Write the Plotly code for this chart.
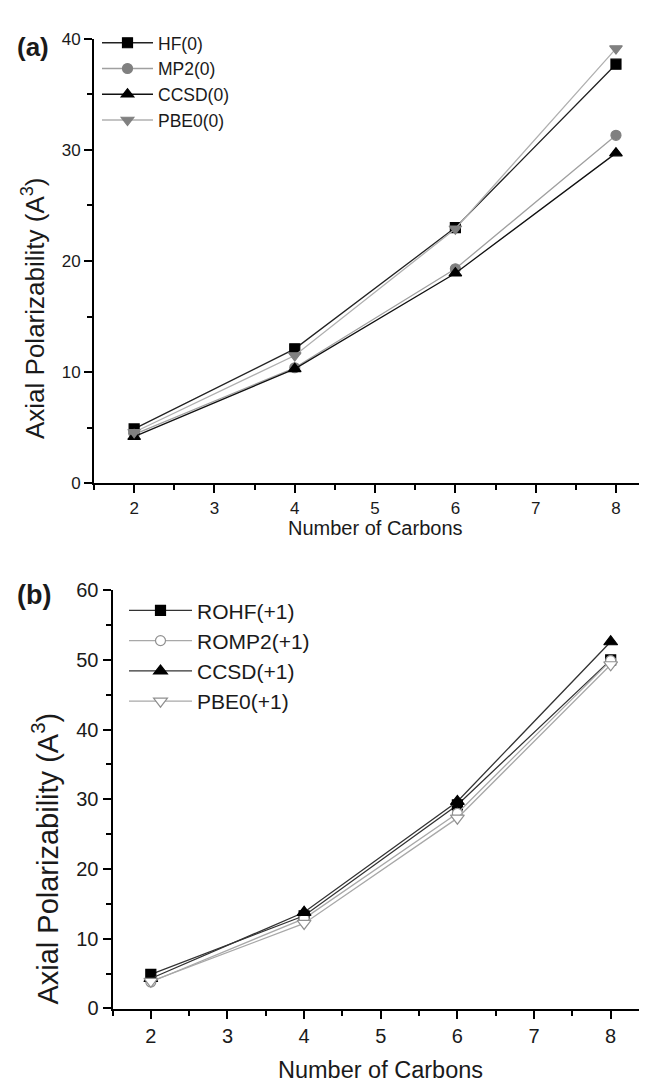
import plotly.graph_objects as go

W, H = 647, 1084

carbons = [2, 4, 6, 8]

# Panel (a): neutral
hf0 = [4.9, 12.1, 23.0, 37.7]
mp20 = [4.4, 10.4, 19.3, 31.3]
ccsd0 = [4.2, 10.3, 18.9, 29.7]
pbe00 = [4.6, 11.5, 22.9, 39.1]

# Panel (b): cation
rohf1 = [4.9, 13.3, 29.2, 50.0]
romp21 = [3.8, 12.9, 28.0, 49.9]
ccsd1 = [4.3, 13.8, 29.7, 52.6]
pbe01 = [3.9, 12.2, 27.3, 49.3]

x_ticks = [2, 3, 4, 5, 6, 7, 8]
ya_ticks = [0, 10, 20, 30, 40]
yb_ticks = [0, 10, 20, 30, 40, 50, 60]

FONT = "Liberation Sans, Arial, sans-serif"
TXT = "#1a1a1a"

fig = go.Figure()

def add(x, y, name, lc, mk, mfill, mline, xa, ya, leg, size, lw=1.3):
    fig.add_trace(go.Scatter(
        x=x, y=y, name=name, mode="lines+markers",
        line=dict(color=lc, width=lw),
        marker=dict(symbol=mk, size=size, color=mfill, line=dict(color=mline, width=1.2)),
        xaxis=xa, yaxis=ya, legend=leg))

add(carbons, hf0, "HF(0)", "#222222", "square", "black", "black", "x", "y", "legend", 10)
add(carbons, mp20, "MP2(0)", "#a0a0a0", "circle", "#808080", "#808080", "x", "y", "legend", 10)
add(carbons, ccsd0, "CCSD(0)", "#111111", "triangle-up", "black", "black", "x", "y", "legend", 11)
add(carbons, pbe00, "PBE0(0)", "#b0b0b0", "triangle-down", "#808080", "#808080", "x", "y", "legend", 11)

add(carbons, rohf1, "ROHF(+1)", "#333333", "square", "black", "black", "x2", "y2", "legend2", 10)
add(carbons, romp21, "ROMP2(+1)", "#a8a8a8", "circle", "white", "#909090", "x2", "y2", "legend2", 10)
add(carbons, ccsd1, "CCSD(+1)", "#333333", "triangle-up", "black", "black", "x2", "y2", "legend2", 12)
add(carbons, pbe01, "PBE0(+1)", "#a8a8a8", "triangle-down", "white", "#909090", "x2", "y2", "legend2", 12)

def px(v):
    return v / W

def py(v):
    return 1 - v / H

def axis(size):
    return dict(
        showgrid=False, zeroline=False, showline=True, linecolor="black", linewidth=2,
        ticks="outside", ticklen=8, tickwidth=2, tickcolor="black",
        tickfont=dict(family=FONT, size=size, color=TXT),
    )

fig.update_layout(
    width=W, height=H, margin=dict(l=0, r=0, t=0, b=0),
    paper_bgcolor="white", plot_bgcolor="white",
    xaxis=dict(domain=[px(86), 1.0], range=[1.5, 8.486], tickvals=x_ticks,
               minor=dict(ticks="outside", ticklen=5, dtick=0.5, tick0=1.5, tickwidth=2, tickcolor="black"),
               anchor="y", **axis(17)),
    yaxis=dict(domain=[py(474), py(20)], range=[0, 40], tickvals=ya_ticks,
               minor=dict(ticks="outside", ticklen=5, dtick=5, tickwidth=2, tickcolor="black"),
               anchor="x", **axis(17)),
    xaxis2=dict(domain=[px(104.5), px(641)], range=[1.5, 8.5], tickvals=x_ticks,
                minor=dict(ticks="outside", ticklen=5, dtick=0.5, tick0=1.5, tickwidth=2, tickcolor="black"),
                anchor="y2", **axis(20)),
    yaxis2=dict(domain=[py(1010), py(583)], range=[0, 60], tickvals=yb_ticks,
                minor=dict(ticks="outside", ticklen=5, dtick=5, tickwidth=2, tickcolor="black"),
                anchor="x2", **axis(20)),
    legend=dict(x=px(89), y=py(6), xanchor="left", yanchor="top",
                font=dict(family=FONT, size=17.5, color=TXT), bgcolor="rgba(0,0,0,0)",
                tracegroupgap=0, itemwidth=51),
    legend2=dict(x=px(116), y=py(583), xanchor="left", yanchor="top",
                 font=dict(family=FONT, size=21, color=TXT), bgcolor="rgba(0,0,0,0)",
                 tracegroupgap=0, itemwidth=63),
    annotations=[
        dict(text="<b>(a)</b>", x=px(7), y=py(29), xref="paper", yref="paper",
             xanchor="left", yanchor="middle", showarrow=False,
             font=dict(family=FONT, size=26, color=TXT)),
        dict(text="<b>(b)</b>", x=px(7), y=py(588), xref="paper", yref="paper",
             xanchor="left", yanchor="middle", showarrow=False,
             font=dict(family=FONT, size=27, color=TXT)),
        dict(text="Number of Carbons", x=px(367), y=py(520), xref="paper", yref="paper",
             xanchor="center", yanchor="middle", showarrow=False,
             font=dict(family=FONT, size=20, color=TXT)),
        dict(text="Number of Carbons", x=px(372), y=py(1073), xref="paper", yref="paper",
             xanchor="center", yanchor="middle", showarrow=False,
             font=dict(family=FONT, size=23.5, color=TXT)),
        dict(text="Axial Polarizability (A<sup>3</sup>)", x=px(25), y=py(295), xref="paper", yref="paper",
             xanchor="center", yanchor="middle", showarrow=False, textangle=-90,
             font=dict(family=FONT, size=26, color=TXT)),
        dict(text="Axial Polarizability (A<sup>3</sup>)", x=px(37), y=py(857), xref="paper", yref="paper",
             xanchor="center", yanchor="middle", showarrow=False, textangle=-90,
             font=dict(family=FONT, size=29, color=TXT)),
    ],
)

fig.write_html("out.html")
